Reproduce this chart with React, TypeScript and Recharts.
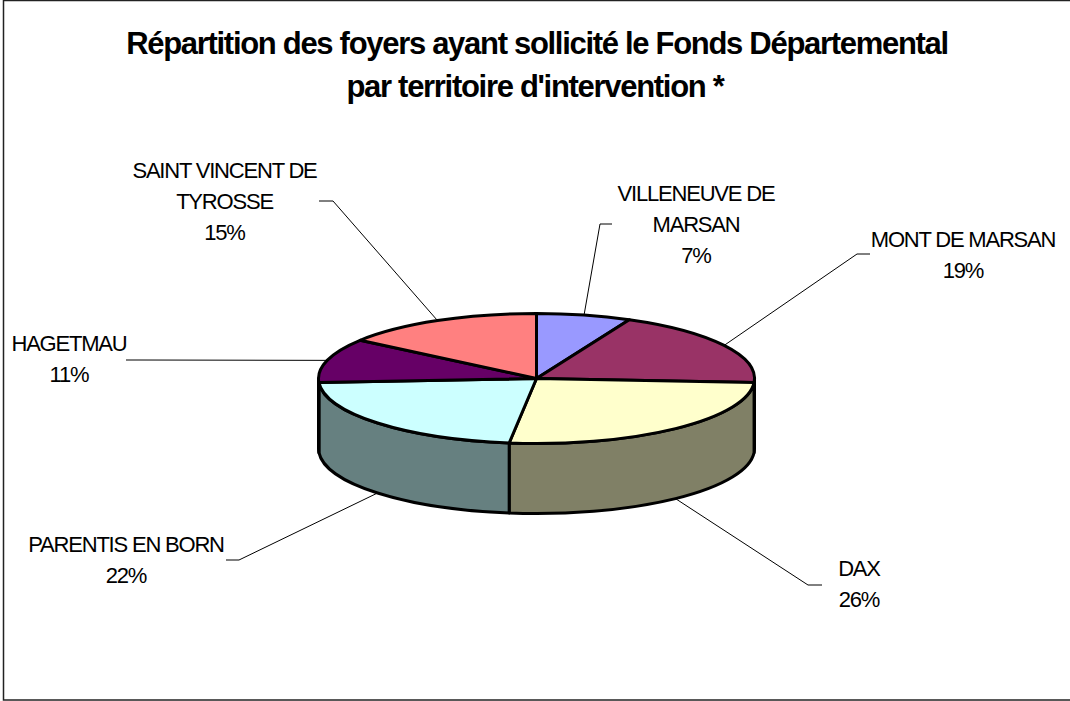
import React from "react";
import { PieChart, Pie, Cell } from "recharts";

const territories = ["VILLENEUVE DE MARSAN", "MONT DE MARSAN", "DAX", "PARENTIS EN BORN", "HAGETMAU", "SAINT VINCENT DE TYROSSE"];
const shares = [7, 19, 26, 22, 11, 15];
const labelLines = [["VILLENEUVE DE", "MARSAN", "7%"], ["MONT DE MARSAN", "19%"], ["DAX", "26%"], ["PARENTIS EN BORN", "22%"], ["HAGETMAU", "11%"], ["SAINT VINCENT DE", "TYROSSE", "15%"]];
const topColors = ["#9999FF", "#993366", "#FFFFCC", "#CCFFFF", "#660066", "#FF8080"];
const wallColors = ["#4D4D80", "#4D1A33", "#808066", "#668080", "#330033", "#804040"];
const titleLines = ["Répartition des foyers ayant sollicité le Fonds Départemental", "par territoire d'intervention *"];

// label layout: text centre x, first baseline y, elbow and stub end of the leader
const labelLayout = [
  { x: 696, y: 200.5, elbow: [600, 224], stub: [612, 224] },
  { x: 963, y: 247, elbow: [857, 254], stub: [870, 254] },
  { x: 859, y: 576, elbow: [808, 585], stub: [822, 585] },
  { x: 126, y: 551.5, elbow: [239, 560], stub: [226, 560] },
  { x: 69, y: 351, elbow: [139, 360], stub: [126, 360] },
  { x: 224.5, y: 177.5, elbow: [333, 201], stub: [319, 201] },
];

const data = territories.map((name, i) => ({ name, value: shares[i] }));

const W = 1070, H = 701, CX = 536.5, CY = 378.5, RX = 218, RY = 65, DEPTH = 70;
const FONT = "'Liberation Sans', Arial, sans-serif";
const rad = (a: number) => (a * Math.PI) / 180;
const px = (a: number) => CX + RX * Math.cos(rad(a));
const py = (a: number) => CY - RY * Math.sin(rad(a));

function TopSlice(p: any) {
  const large = Math.abs(p.endAngle - p.startAngle) > 180 ? 1 : 0;
  const d = `M${CX},${CY}L${px(p.startAngle)},${py(p.startAngle)}A${RX},${RY} 0 ${large} 1 ${px(p.endAngle)},${py(p.endAngle)}Z`;
  return <path d={d} fill={p.fill} stroke="#000" strokeWidth={3} strokeLinejoin="round" />;
}

function WallSlice(p: any) {
  // Recharts angles run clockwise as decreasing values; the wall shows where sin(angle) < 0.
  const s2 = Math.min(p.startAngle, 0), e2 = Math.max(p.endAngle, -180);
  if (s2 <= e2) return <g />;
  const large = s2 - e2 > 180 ? 1 : 0;
  const d = `M${px(s2)},${py(s2)}A${RX},${RY} 0 ${large} 1 ${px(e2)},${py(e2)}L${px(e2)},${py(e2) + DEPTH}A${RX},${RY} 0 ${large} 0 ${px(s2)},${py(s2) + DEPTH}Z`;
  return <path d={d} fill={p.fill} stroke="#000" strokeWidth={3} strokeLinejoin="round" />;
}

function SliceLabel(p: any) {
  const lay = labelLayout[p.index];
  const lines = labelLines[p.index];
  const a = p.midAngle;
  const sx = px(a);
  const sy = py(a) + (Math.sin(rad(a)) < 0 ? DEPTH : 0);
  return (
    <g>
      <polyline points={`${sx},${sy} ${lay.elbow[0]},${lay.elbow[1]} ${lay.stub[0]},${lay.stub[1]}`} fill="none" stroke="#000" strokeWidth={1} />
      <text x={lay.x} y={lay.y} textAnchor="middle" fontFamily={FONT} fontSize={22} letterSpacing={-1.2} fill="#000">
        {lines.map((t: string, i: number) => (
          <tspan key={i} x={lay.x} y={lay.y + i * 31}>{t}</tspan>
        ))}
      </text>
    </g>
  );
}

export default function App() {
  return (
    <div style={{ position: "absolute", left: 0, top: 0, width: W, height: H, background: "#fff", overflow: "hidden" }}>
      <PieChart width={W} height={H} margin={{ top: 0, right: 0, bottom: 0, left: 0 }}>
        <rect x={3.5} y={0.5} width={1080} height={699.5} fill="#fff" stroke="#222" strokeWidth={1.5} />
        <text textAnchor="middle" fontFamily={FONT} fontWeight="bold" fontSize={31} letterSpacing={-1.3} fill="#000">
          <tspan x={537} y={54}>{titleLines[0]}</tspan>
          <tspan x={535} y={97}>{titleLines[1]}</tspan>
        </text>
        <Pie data={data} dataKey="value" nameKey="name" cx={CX} cy={CY} outerRadius={RX} startAngle={90} endAngle={-270} stroke="none" isAnimationActive={false} shape={WallSlice} label={false} labelLine={false}>
          {data.map((d, i) => <Cell key={d.name} fill={wallColors[i]} />)}
        </Pie>
        <Pie data={data} dataKey="value" nameKey="name" cx={CX} cy={CY} outerRadius={RX} startAngle={90} endAngle={-270} stroke="none" isAnimationActive={false} shape={TopSlice} label={SliceLabel} labelLine={false}>
          {data.map((d, i) => <Cell key={d.name} fill={topColors[i]} />)}
        </Pie>
      </PieChart>
    </div>
  );
}
